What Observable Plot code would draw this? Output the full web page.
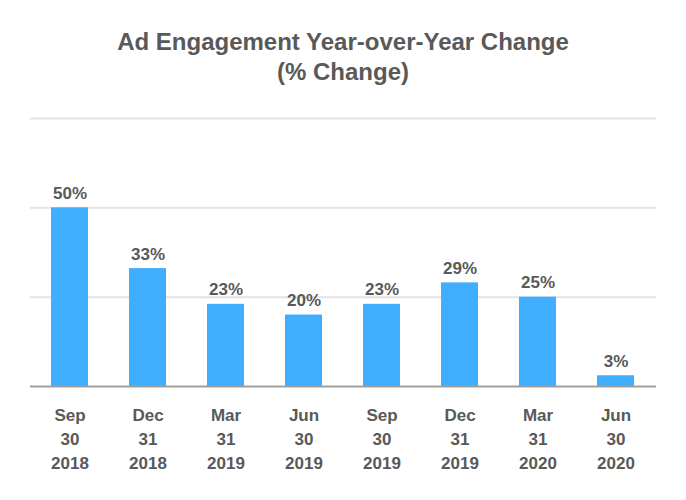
<!DOCTYPE html>
<html>
<head>
<meta charset="utf-8">
<script src="https://cdn.jsdelivr.net/npm/d3@7"></script>
<script src="https://cdn.jsdelivr.net/npm/@observablehq/plot@0.6"></script>
<style>
  body { margin: 0; background: #fff; font-family: "Liberation Sans", Arial, sans-serif; }
  #title { width: 686px; height: 100px; box-sizing: border-box; padding-top: 27px; text-align: center;
           font-size: 24px; font-weight: bold; color: #595959; line-height: 30px; }
</style>
</head>
<body>
<div id="title">Ad Engagement Year-over-Year Change<br>(% Change)</div>
<div id="chart"></div>
<script>
const quarters = ["Sep\n30\n2018", "Dec\n31\n2018", "Mar\n31\n2019", "Jun\n30\n2019", "Sep\n30\n2019", "Dec\n31\n2019", "Mar\n31\n2020", "Jun\n30\n2020"];
const changes = [50, 33, 23, 20, 23, 29, 25, 3];
const yTicks = [0, 25, 50, 75];

const data = quarters.map((q, i) => ({quarter: q, value: changes[i]}));

const chart = Plot.plot({
  width: 686,
  height: 400,
  marginLeft: 30,
  marginRight: 30,
  marginTop: 18,
  marginBottom: 114,
  style: {fontFamily: "Liberation Sans, Arial, sans-serif", background: "#fff"},
  x: {domain: quarters, paddingInner: 0.52, paddingOuter: 0.26, label: null},
  y: {domain: [0, 75], label: null, axis: null},
  marks: [
    Plot.ruleY(yTicks.filter(d => d > 0), {stroke: "#e3e3e3", strokeWidth: 2}),
    Plot.barY(data, {x: "quarter", y: "value", fill: "#40AEFF"}),
    Plot.ruleY([0], {stroke: "#9e9e9e", strokeWidth: 2}),
    Plot.text(data, {x: "quarter", y: "value", text: d => d.value + "%", lineAnchor: "bottom", dy: -9,
                     fill: "#595959", fontSize: 17, fontWeight: "bold"}),
    Plot.axisX({tickSize: 0, tickPadding: 17, fontSize: 17, fontWeight: "bold", fill: "#595959",
                lineHeight: 1.42, label: null}),
  ]
});
document.getElementById("chart").appendChild(chart);
</script>
</body>
</html>
